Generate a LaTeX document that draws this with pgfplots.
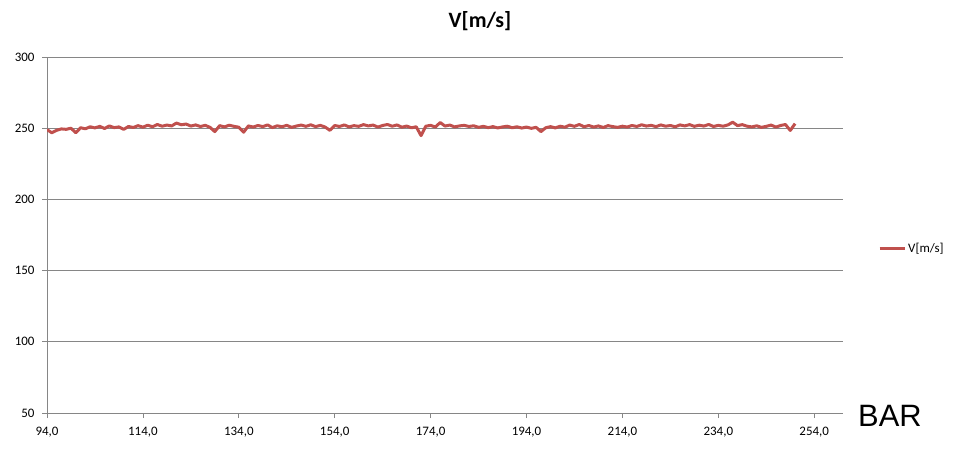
\documentclass[border=0pt]{standalone}
\usepackage{fontspec}
\setmainfont{Carlito}
\newfontfamily\arialfont{Liberation Sans}
\usepackage{pgfplots}
\pgfplotsset{compat=1.18}
\definecolor{exred}{RGB}{192,80,77}
\definecolor{exgrid}{RGB}{134,134,134}
\begin{document}
\begin{tikzpicture}
\begin{axis}[
  at={(0,0)}, anchor=south west,
  scale only axis, width=796bp, height=356bp,
  xmin=94, xmax=260, ymin=50, ymax=300,
  xtick={94,114,134,154,174,194,214,234,254},
  ytick={50,100,150,200,250,300},
  axis x line*=bottom, axis y line*=left,
  axis line style={exgrid, line width=0.75bp, -},
  tick style={exgrid, line width=0.75bp},
  tick align=outside, major tick length=5bp,
  ymajorgrids, grid style={exgrid, line width=0.75bp},
  /pgf/number format/assume math mode=true,
  xticklabel style={/pgf/number format/.cd, fixed, fixed zerofill, precision=1, use comma, /tikz/.cd, font=\fontsize{13}{15}\selectfont, yshift=-6bp},
  yticklabel style={font=\fontsize{13}{15}\selectfont, xshift=-4bp},
  title={V[m/s]},
  title style={at={(0.544,1.084)}, anchor=center, font=\bfseries\fontsize{22}{24}\selectfont},
  xlabel={\arialfont BAR},
  xlabel style={at={(1.059,-0.008)}, anchor=center, font=\fontsize{31}{33}\selectfont},
  legend style={at={(1.044,0.463)}, anchor=west, draw=none, fill=none, inner sep=0pt, font=\fontsize{13}{15}\selectfont},
  legend image code/.code={\draw[#1] (0bp,0bp) -- (25bp,0bp);},
]
\addplot[exred, line width=3bp, line join=round, no marks] table {
x y
94 249.0
95 246.8
96 248.5
97 249.5
98 249.2
99 250.0
100 246.8
101 250.3
102 249.6
103 251.0
104 250.2
105 251.3
106 249.8
107 251.6
108 250.4
109 250.9
110 249.2
111 251.2
112 250.5
113 251.8
114 250.7
115 252.1
116 251.0
117 252.6
118 251.4
119 252.2
120 251.6
121 253.6
122 252.4
123 252.9
124 251.5
125 252.3
126 251.2
127 252.0
128 250.6
129 247.6
130 251.8
131 250.9
132 252.1
133 251.3
134 250.7
135 247.2
136 251.6
137 250.8
138 251.9
139 251.1
140 252.3
141 250.4
142 251.7
143 251.0
144 252.0
145 250.6
146 251.5
147 252.2
148 251.3
149 252.4
150 251.1
151 252.0
152 250.8
153 248.5
154 251.9
155 251.2
156 252.3
157 250.9
158 251.8
159 251.3
160 252.5
161 251.6
162 252.2
163 250.8
164 251.9
165 252.6
166 251.4
167 252.3
168 250.7
169 251.5
170 250.3
171 251.0
172 244.8
173 251.4
174 252.0
175 250.8
176 254.0
177 251.5
178 252.2
179 250.9
180 251.6
181 252.0
182 251.2
183 251.7
184 250.6
185 251.3
186 250.4
187 251.1
188 250.2
189 250.9
190 251.4
191 250.3
192 251.0
193 250.1
194 250.8
195 249.9
196 250.6
197 247.6
198 250.3
199 251.1
200 250.2
201 251.4
202 250.7
203 252.2
204 251.3
205 252.6
206 251.0
207 251.9
208 250.8
209 251.6
210 250.5
211 251.8
212 251.1
213 250.6
214 251.4
215 250.8
216 251.9
217 251.2
218 252.4
219 251.5
220 252.0
221 251.1
222 252.3
223 251.4
224 251.9
225 251.0
226 252.3
227 251.6
228 252.5
229 251.3
230 252.1
231 251.5
232 252.6
233 251.2
234 252.0
235 251.4
236 252.3
237 254.2
238 251.8
239 252.5
240 251.4
241 250.9
242 251.7
243 250.6
244 251.3
245 252.2
246 250.8
247 251.9
248 252.6
249 248.4
250 253.2
};
\addlegendentry{V[m/s]}
\end{axis}
\pgfresetboundingbox
\useasboundingbox (-47bp,-44bp) rectangle (912bp,413bp);
\end{tikzpicture}
\end{document}
